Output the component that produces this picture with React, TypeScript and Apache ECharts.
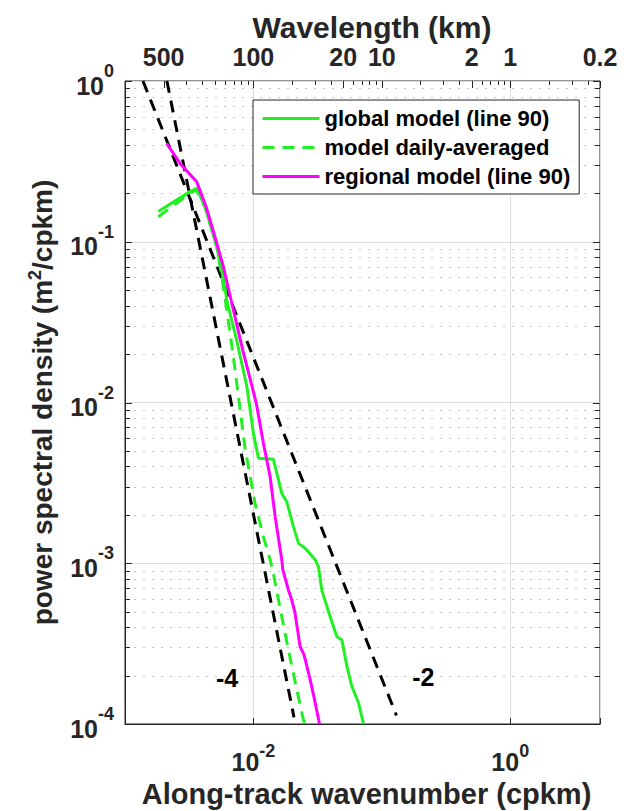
import React, { useEffect, useRef } from "react";
import * as echarts from "echarts";

const FONT = '"Liberation Sans", Arial, Helvetica, sans-serif';
const TEXT = "#262626";
const GREEN = "#22f022";
const MAGENTA = "#ff00ff";

// wavenumber (cpkm), PSD (m^2/cpkm)
const globalModel: [number, number][] = [
  [0.00182, 0.154], [0.00321, 0.205], [0.00362, 0.215], [0.0042, 0.165],
  [0.00519, 0.093], [0.0060, 0.0525], [0.0062, 0.0434], [0.0074, 0.0245],
  [0.0089, 0.01253], [0.01, 0.00643], [0.01094, 0.0045], [0.01432, 0.00443],
  [0.01664, 0.00272], [0.0182, 0.00241], [0.0205, 0.00169], [0.02245, 0.00133],
  [0.0253, 0.00124], [0.0303, 0.00105], [0.0321, 0.00095], [0.0341, 0.00068],
  [0.0396, 0.000465], [0.0447, 0.000349], [0.0489, 0.000333], [0.0535, 0.000228],
  [0.0585, 0.000171], [0.0659, 0.000135], [0.072, 0.0001],
];
const dailyAveraged: [number, number][] = [
  [0.00182, 0.143], [0.0032, 0.2], [0.0036, 0.21], [0.0042, 0.165],
  [0.0052, 0.093], [0.0060, 0.0453], [0.00695, 0.0197], [0.00861, 0.00519],
  [0.0103, 0.00236], [0.01197, 0.00146], [0.0135, 0.00105], [0.0143, 0.000865],
  [0.01663, 0.000465], [0.01875, 0.000288], [0.0218, 0.000163], [0.0245, 0.000106],
  [0.0253, 0.0001],
];
const regionalModel: [number, number][] = [
  [0.00211, 0.41], [0.00268, 0.307], [0.00362, 0.236], [0.00428, 0.165],
  [0.00502, 0.107], [0.00583, 0.07], [0.0067, 0.0434], [0.00826, 0.0212],
  [0.0105, 0.01], [0.01197, 0.00557], [0.0135, 0.00345], [0.01476, 0.00195],
  [0.01664, 0.00105], [0.01695, 0.00091], [0.01875, 0.00068], [0.0199, 0.00059],
  [0.0211, 0.000489], [0.0231, 0.000303], [0.0248, 0.000269], [0.0277, 0.000188],
  [0.0303, 0.000135], [0.0327, 0.0001],
];
const slopeMinus4: [number, number][] = [[0.00212, 1], [0.0207, 1.1e-4]];
const slopeMinus2: [number, number][] = [[0.00138, 1], [0.13, 1.13e-4]];
const slopeLabels: [number, number, string][] = [
  [0.00624, 1.93e-4, "-4"],
  [0.2104, 1.95e-4, "-2"],
];
const wavelengthTicksKm = [500, 100, 20, 10, 2, 1, 0.2];
const yDecades = [-4, -3, -2, -1, 0];
const xDecades = [-3, -2, -1, 0];
const minorMultipliers = [2, 3, 4, 5, 6, 7, 8, 9];
const seriesNames = ["global model (line 90)", "model daily-averaged", "regional model (line 90)"];

const X_MIN = 0.001;
const X_MAX = 5;

export default function App() {
  const ref = useRef<HTMLDivElement>(null);
  useEffect(() => {
    document.body.style.margin = "0";
    const chart = echarts.init(ref.current!, null, { renderer: "svg" });

    const yTickData: number[][] = [];
    yDecades.forEach((d) => {
      yTickData.push([0.01, Math.pow(10, d), 1]);
      if (d < 0) minorMultipliers.forEach((m) => yTickData.push([0.01, m * Math.pow(10, d), 0]));
    });
    const topMajor = wavelengthTicksKm.map((l) => 1 / l);
    const xTickData: number[][] = [];
    xDecades.forEach((d) => {
      const v0 = Math.pow(10, d);
      if (v0 > X_MIN * 1.0001) xTickData.push([v0, 1, 0]);
      minorMultipliers.forEach((m) => {
        const v = m * v0;
        if (v <= X_MAX * 1.0001) xTickData.push([v, 1, 0]);
      });
    });
    xTickData.forEach((t) => {
      if (topMajor.some((mv) => Math.abs(mv - t[0]) / mv < 1e-6)) t[2] = 1;
    });
    const topLabelData = wavelengthTicksKm.map((l) => [1 / l, 1, l]);

    const supRichY = {
      b: { fontSize: 25, fontWeight: "bold", fontFamily: FONT, color: TEXT, lineHeight: 36, verticalAlign: "bottom" },
      s: { fontSize: 18, fontWeight: "bold", fontFamily: FONT, color: TEXT, lineHeight: 18, verticalAlign: "top" },
    };
    const supRichX = {
      b: { fontSize: 25, fontWeight: "bold", fontFamily: FONT, color: TEXT, lineHeight: 32, verticalAlign: "bottom" },
      s: { fontSize: 18, fontWeight: "bold", fontFamily: FONT, color: TEXT, lineHeight: 18, verticalAlign: "top" },
    };

    const lineCommon = {
      type: "line",
      xAxisIndex: 0,
      yAxisIndex: 0,
      symbol: "none",
      showSymbol: false,
      z: 3,
    };

    const option: any = {
      animation: false,
      backgroundColor: "#fff",
      grid: {
        left: 125,
        top: 81,
        right: 34,
        bottom: 87,
        show: true,
        borderColor: TEXT,
        borderWidth: 1,
        backgroundColor: "#fff",
        containLabel: false,
        outerBoundsMode: "none",
      },
      graphic: [
        {
          type: "text",
          x: 372,
          y: 27,
          style: {
            text: "Wavelength (km)",
            fill: TEXT,
            fontSize: 30,
            fontWeight: "bold",
            fontFamily: FONT,
            align: "center",
            verticalAlign: "middle",
          },
        },
      ],
      legend: {
        data: seriesNames,
        orient: "vertical",
        left: 253,
        top: 100,
        itemWidth: 57,
        itemHeight: 14,
        itemGap: 0,
        padding: [4, 9, 3, 8],
        backgroundColor: "#fff",
        borderColor: TEXT,
        borderWidth: 1,
        borderRadius: 0,
        itemStyle: { opacity: 0 },
        lineStyle: { width: 3 },
        textStyle: { fontSize: 22, fontWeight: "bold", fontFamily: FONT, color: "#000", lineHeight: 29 },
        selectedMode: false,
      },
      xAxis: [
        {
          type: "log",
          logBase: 100,
          min: X_MIN,
          max: X_MAX,
          position: "bottom",
          name: "Along-track wavenumber (cpkm)",
          nameLocation: "middle",
          nameGap: 55,
          nameMoveOverlap: false,
          nameTextStyle: { fontSize: 29, fontWeight: "bold", fontFamily: FONT, color: TEXT, padding: [0, 0, 0, 8] },
          axisLine: { show: true, lineStyle: { color: TEXT, width: 1 } },
          axisTick: { show: true, inside: true, length: 6, lineStyle: { color: TEXT } },
          minorTick: { show: false },
          axisLabel: {
            margin: 18,
            formatter: (v: number) => {
              const e = Math.round(Math.log10(v));
              if (Math.abs(Math.log10(v) - e) > 1e-6) return "";
              if (e !== -2 && e !== 0) return "";
              return `{b|10}{s|${e}}`;
            },
            rich: supRichX,
          },
          splitLine: { show: true, lineStyle: { color: "#dedede", width: 1 } },
        },
      ],
      yAxis: [
        {
          type: "log",
          logBase: 10,
          min: 1e-4,
          max: 1,
          name: "power spectral density (m{sup|2}/cpkm)",
          nameLocation: "middle",
          nameGap: 67,
          nameMoveOverlap: false,
          nameTextStyle: {
            fontSize: 28,
            fontWeight: "bold",
            fontFamily: FONT,
            color: TEXT,
            lineHeight: 32,
            rich: {
              sup: { fontSize: 18, fontWeight: "bold", fontFamily: FONT, color: TEXT, lineHeight: 18, verticalAlign: "top" },
            },
          },
          axisLine: { show: true, lineStyle: { color: TEXT, width: 1 } },
          axisTick: { show: false },
          axisLabel: {
            margin: 11,
            padding: [0, 0, 2, 0],
            formatter: (v: number) => `{b|10}{s|${Math.round(Math.log10(v))}}`,
            rich: supRichY,
          },
          splitLine: { show: true, lineStyle: { color: "#dedede", width: 1 } },
        },
      ],
      series: [
        {
          type: "custom",
          name: "yTicks",
          xAxisIndex: 0,
          yAxisIndex: 0,
          z: 1,
          silent: true,
          data: yTickData,
          renderItem: (params: any, api: any) => {
            const cs = params.coordSys;
            const y = Math.round(api.coord([0.01, api.value(1)])[1]) + 0.5;
            const major = api.value(2) === 1;
            const len = major ? 7 : 5;
            const children: any[] = [];
            if (!major) {
              children.push({
                type: "line",
                shape: { x1: cs.x, y1: y, x2: cs.x + cs.width, y2: y },
                style: { stroke: "#c8c8c8", lineWidth: 1, lineDash: [2, 7] },
              });
            }
            children.push({ type: "line", shape: { x1: cs.x, y1: y, x2: cs.x + len, y2: y }, style: { stroke: TEXT, lineWidth: 1 } });
            children.push({ type: "line", shape: { x1: cs.x + cs.width - len, y1: y, x2: cs.x + cs.width, y2: y }, style: { stroke: TEXT, lineWidth: 1 } });
            return { type: "group", children };
          },
        },
        {
          type: "custom",
          name: "topTicks",
          xAxisIndex: 0,
          yAxisIndex: 0,
          z: 1,
          silent: true,
          data: xTickData,
          renderItem: (params: any, api: any) => {
            const cs = params.coordSys;
            const x = Math.round(api.coord([api.value(0), 1])[0]) + 0.5;
            const len = api.value(2) === 1 ? 7 : 4;
            return {
              type: "line",
              shape: { x1: x, y1: cs.y, x2: x, y2: cs.y + len },
              style: { stroke: TEXT, lineWidth: 1 },
            };
          },
        },
        {
          type: "custom",
          name: "topLabels",
          xAxisIndex: 0,
          yAxisIndex: 0,
          z: 5,
          silent: true,
          data: topLabelData,
          renderItem: (params: any, api: any) => {
            const cs = params.coordSys;
            const x = api.coord([api.value(0), 1])[0];
            return {
              type: "text",
              x,
              y: cs.y - 24.5,
              style: {
                text: String(api.value(2)),
                fill: TEXT,
                fontSize: 25,
                fontWeight: "bold",
                fontFamily: FONT,
                align: "center",
                verticalAlign: "middle",
              },
            };
          },
        },
        {
          type: "custom",
          name: "slopeLabels",
          xAxisIndex: 0,
          yAxisIndex: 0,
          z: 5,
          silent: true,
          data: slopeLabels.map((s) => [s[0], s[1]]),
          renderItem: (params: any, api: any) => {
            const p = api.coord([api.value(0), api.value(1)]);
            const idx = params.dataIndex;
            return {
              type: "text",
              x: p[0],
              y: p[1],
              style: {
                text: slopeLabels[idx][2],
                fill: "#000",
                fontSize: 25,
                fontWeight: "bold",
                fontFamily: FONT,
                align: "center",
                verticalAlign: "middle",
              },
            };
          },
        },
        {
          ...lineCommon,
          name: "slope-4",
          data: slopeMinus4,
          lineStyle: { color: "#000", width: 3, type: [12, 8] },
        },
        {
          ...lineCommon,
          name: "slope-2",
          data: slopeMinus2,
          lineStyle: { color: "#000", width: 3, type: [12, 8] },
        },
        {
          ...lineCommon,
          name: seriesNames[1],
          data: dailyAveraged,
          itemStyle: { color: GREEN },
          lineStyle: { color: GREEN, width: 3, type: [12, 8] },
        },
        {
          ...lineCommon,
          name: seriesNames[0],
          data: globalModel,
          itemStyle: { color: GREEN },
          lineStyle: { color: GREEN, width: 3 },
        },
        {
          ...lineCommon,
          name: seriesNames[2],
          data: regionalModel,
          itemStyle: { color: MAGENTA },
          lineStyle: { color: MAGENTA, width: 3 },
        },
      ],
    };
    chart.setOption(option);
    return () => chart.dispose();
  }, []);
  return <div ref={ref} style={{ width: 634, height: 811 }} />;
}
